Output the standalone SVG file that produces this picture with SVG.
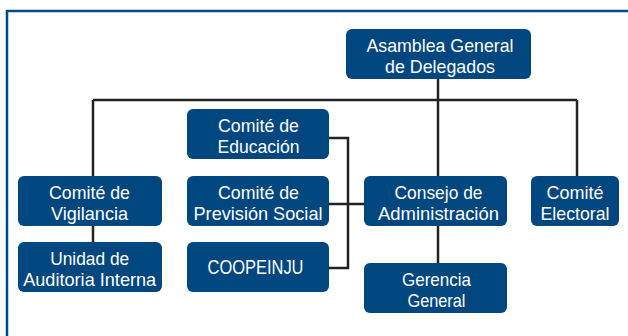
<svg xmlns="http://www.w3.org/2000/svg" width="628" height="336" viewBox="0 0 628 336">
<style>
.box{fill:#00467f;}
.t{font-family:"Liberation Sans",Arial,sans-serif;font-size:19px;fill:#ffffff;text-anchor:middle;}
.c{stroke:#222222;stroke-width:2.5;fill:none;}
</style>
<rect x="0" y="0" width="628" height="336" fill="#ffffff"/>
<rect x="7" y="11" width="700" height="400" fill="none" stroke="#004a85" stroke-width="2.5"/>
<g id="connectors">
<path class="c" d="M438 79V100M93 100H577M93 100V176M438 100V176M577 100V176M93 226V242M438 226V263M329 138H348V268H329M329 204H364"/>
</g>
<g id="asamblea"><rect class="box" x="346" y="29" width="185" height="50" rx="6"/><text class="t"><tspan x="440" y="51.5" textLength="147" lengthAdjust="spacingAndGlyphs">Asamblea General</tspan><tspan x="440" y="73" textLength="110" lengthAdjust="spacingAndGlyphs">de Delegados</tspan></text></g>
<g id="educacion"><rect class="box" x="187" y="109" width="142" height="50" rx="6"/><text class="t"><tspan x="258.5" y="131.5" textLength="81" lengthAdjust="spacingAndGlyphs">Comité de</tspan><tspan x="258.5" y="153" textLength="82" lengthAdjust="spacingAndGlyphs">Educación</tspan></text></g>
<g id="vigilancia"><rect class="box" x="18" y="176" width="144" height="50" rx="6"/><text class="t"><tspan x="89.5" y="198.5" textLength="81" lengthAdjust="spacingAndGlyphs">Comité de</tspan><tspan x="89.5" y="220" textLength="77" lengthAdjust="spacingAndGlyphs">Vigilancia</tspan></text></g>
<g id="prevision"><rect class="box" x="187" y="176" width="142" height="50" rx="6"/><text class="t"><tspan x="258.5" y="198.5" textLength="81" lengthAdjust="spacingAndGlyphs">Comité de</tspan><tspan x="258" y="220" textLength="129" lengthAdjust="spacingAndGlyphs">Previsión Social</tspan></text></g>
<g id="consejo"><rect class="box" x="364" y="176" width="143" height="50" rx="6"/><text class="t"><tspan x="438.5" y="198.5" textLength="88" lengthAdjust="spacingAndGlyphs">Consejo de</tspan><tspan x="438.5" y="220" textLength="121" lengthAdjust="spacingAndGlyphs">Administración</tspan></text></g>
<g id="electoral"><rect class="box" x="531" y="176" width="88" height="50" rx="6"/><text class="t"><tspan x="575" y="198.5" textLength="57" lengthAdjust="spacingAndGlyphs">Comité</tspan><tspan x="575" y="220" textLength="69" lengthAdjust="spacingAndGlyphs">Electoral</tspan></text></g>
<g id="unidad"><rect class="box" x="18" y="242" width="144" height="50" rx="6"/><text class="t"><tspan x="89.7" y="264.5" textLength="79" lengthAdjust="spacingAndGlyphs">Unidad de</tspan><tspan x="89.7" y="286" textLength="133" lengthAdjust="spacingAndGlyphs">Auditoria Interna</tspan></text></g>
<g id="coopeinju"><rect class="box" x="187" y="242" width="142" height="50" rx="6"/><text class="t" x="255.5" y="274" textLength="96" lengthAdjust="spacingAndGlyphs" style="font-size:21px">COOPEINJU</text></g>
<g id="gerencia"><rect class="box" x="364" y="263" width="143" height="50" rx="6"/><text class="t"><tspan x="436.5" y="285.5" textLength="69" lengthAdjust="spacingAndGlyphs">Gerencia</tspan><tspan x="436.5" y="307" textLength="58" lengthAdjust="spacingAndGlyphs">General</tspan></text></g>
</svg>
